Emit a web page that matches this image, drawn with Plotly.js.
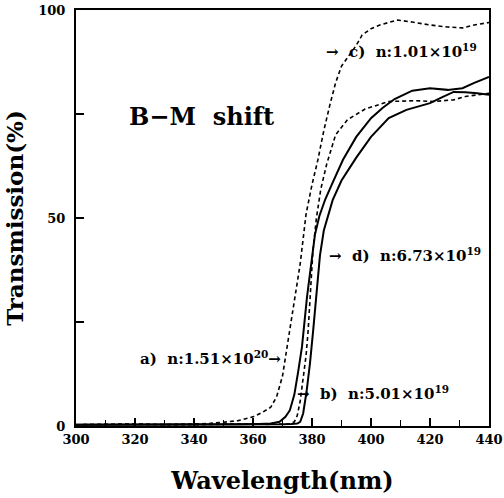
<!DOCTYPE html>
<html>
<head>
<meta charset="utf-8">
<script src="https://cdn.plot.ly/plotly-3.0.1.min.js"></script>
<style>html,body{margin:0;padding:0;background:#fff;}#chart{width:504px;height:498px;}</style>
</head>
<body>
<div id="chart"></div>
<script>
// Wavelength (nm) and transmission (%)
const dashLeftX = [300,310,320,330,340,345,350,355,360,363,366,368,370,372,374,376,378,380,382,384,386,388,390,393,395,397,400,403,409,414,420,426,431,435,440];
const dashLeftY = [0.3,0.4,0.5,0.3,0.5,0.6,0.9,1.3,2.2,3.2,4.5,7,12,21,30,39,51,58,64,71,77,82.5,86.5,89.5,91.5,94,95.5,96.4,97.6,97.1,96.4,95.9,95.7,96.4,97];

const solidLeftX = [300,320,340,355,362,366,369,371,372.5,374,375.3,376.6,378.3,380,381,382.5,384.5,387,390.5,395,400,404,408,414,420,426,431,435,440];
const solidLeftY = [0.3,0.3,0.4,0.4,0.5,0.6,1,2.2,3.8,7.5,13,19,31,40.5,46,50.5,54.5,58.5,64,69.5,74,76.5,78.6,80.6,81.2,80.8,81.2,82.5,83.9];

const dashRightX = [300,320,340,355,365,370,372.5,374,375,376,377,378,378.7,379.5,380.3,381.5,383,385,388,392,398,406,415,421,428,432,436,440];
const dashRightY = [0.3,0.4,0.3,0.5,0.4,0.4,0.5,1,2.5,6,11.5,17,23,32,42,50,57,63,70,73.6,76.2,78,78.2,78,78.4,79.2,79.6,80];

const solidRightX = [300,320,340,355,365,370,373,375,376,377,378.2,379.3,380.4,381.5,382.7,384,385.5,387,390,395,400,406,412,420,424,428,432,436,440];
const solidRightY = [0.3,0.3,0.4,0.4,0.4,0.4,0.5,0.6,1,3,8.5,15,23,32,41,47,51,54.3,59,64.5,69.5,74,76,77.6,79,80.3,80.2,80,79.6];

const xTickVals = [300,320,340,360,380,400,420,440];
const yTickVals = [0,50,100];

const labelText = ["B\u2212M  shift", "\u2192  c)  n:1.01\u00d710<sup>19</sup>", "\u2192  d)  n:6.73\u00d710<sup>19</sup>", "a)  n:1.51\u00d710<sup>20</sup>\u2192", "\u2192  b)  n:5.01\u00d710<sup>19</sup>"];

const FONT = "DejaVu Serif";
const dashLine = {color:"#000", width:1.6, dash:"4px,3px"};
const solidLine = {color:"#000", width:2};

const traces = [
  {x:dashLeftX, y:dashLeftY, mode:"lines", line:dashLine, name:"a"},
  {x:solidLeftX, y:solidLeftY, mode:"lines", line:solidLine, name:"b"},
  {x:dashRightX, y:dashRightY, mode:"lines", line:dashLine, name:"c"},
  {x:solidRightX, y:solidRightY, mode:"lines", line:solidLine, name:"d"}
];

const annFont = {family:FONT, size:15, color:"#000", weight:"bold"};
const layout = {
  width:504, height:498,
  margin:{l:76, r:15, t:10, b:72},
  paper_bgcolor:"#fff", plot_bgcolor:"#fff",
  showlegend:false,
  font:{family:FONT, color:"#000"},
  xaxis:{
    range:[300,440], tickvals:xTickVals, ticks:"inside", ticklen:8, tickwidth:1.5, tickcolor:"#000",
    minor:{dtick:10, ticks:"inside", ticklen:6, tickwidth:1.5, tickcolor:"#000"},
    showline:true, linewidth:2, linecolor:"#000", mirror:true, showgrid:false, zeroline:false,
    tickfont:{family:FONT, size:13, weight:"bold"},
    title:{text:"Wavelength(nm)", font:{family:FONT, size:24, weight:"bold"}, standoff:27}
  },
  yaxis:{
    range:[0,100], tickvals:yTickVals, ticks:"inside", ticklen:8, tickwidth:1.5, tickcolor:"#000",
    minor:{dtick:25, ticks:"inside", ticklen:8, tickwidth:1.5, tickcolor:"#000"},
    ticklabelstandoff:6,
    showline:true, linewidth:2, linecolor:"#000", mirror:true, showgrid:false, zeroline:false,
    tickfont:{family:FONT, size:13, weight:"bold"},
    title:{text:"Transmission(%)", font:{family:FONT, size:23, weight:"bold"}, standoff:8}
  },
  annotations:[
    {x:342.7, y:74.5, xref:"x", yref:"y", text:labelText[0], showarrow:false, font:{family:FONT, size:24, weight:"bold"}},
    {x:384.2, y:90.2, xref:"x", yref:"y", text:labelText[1], showarrow:false, xanchor:"left", font:annFont},
    {x:385.2, y:41.1, xref:"x", yref:"y", text:labelText[2], showarrow:false, xanchor:"left", font:annFont},
    {x:370.0, y:16.3, xref:"x", yref:"y", text:labelText[3], showarrow:false, xanchor:"right", font:annFont},
    {x:374.4, y:7.9, xref:"x", yref:"y", text:labelText[4], showarrow:false, xanchor:"left", font:annFont}
  ]
};

Plotly.newPlot("chart", traces, layout, {displayModeBar:false, staticPlot:true});
</script>
</body>
</html>
